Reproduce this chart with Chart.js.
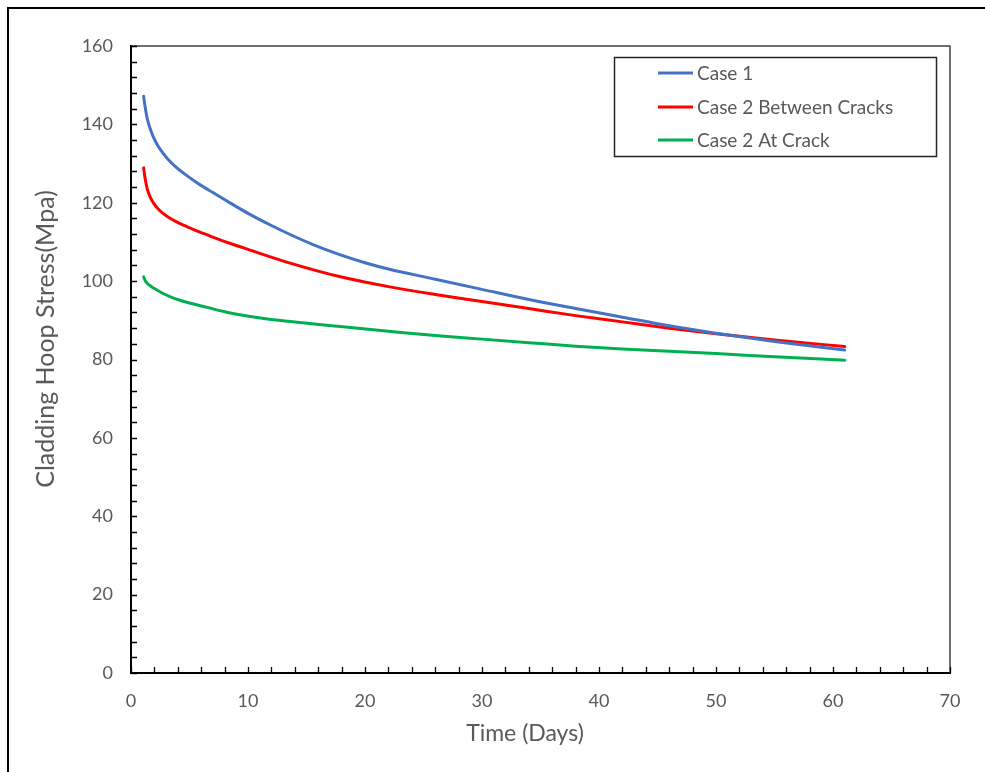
<!DOCTYPE html>
<html>
<head>
<meta charset="utf-8">
<script src="https://cdn.jsdelivr.net/npm/chart.js@4/dist/chart.umd.min.js"></script>
<style>
  html, body { margin: 0; padding: 0; background: #fff; }
  #wrap { width: 985px; height: 772px; position: relative; }
</style>
</head>
<body>
<div id="wrap"><canvas id="c" width="985" height="772"></canvas></div>
<script>
// ---- Data ----
const case1Days   = [1.08, 1.2, 1.4, 1.7, 2.1, 2.5, 3.1, 3.7, 4.6, 5.7, 7, 8.5, 10, 12, 13.6, 15.5, 17.9, 20, 22, 26, 30, 34, 38, 42, 46, 50, 55, 61];
const case1Stress = [147.2, 144.6, 141.3, 138.4, 135.6, 133.6, 131.3, 129.5, 127.3, 125.0, 122.6, 119.9, 117.3, 114.2, 111.9, 109.4, 106.7, 104.7, 103.1, 100.5, 97.9, 95.3, 93.0, 90.8, 88.6, 86.7, 84.6, 82.4];

const case2BetweenDays   = [1.08, 1.2, 1.4, 1.65, 2, 2.5, 3.1, 3.9, 4.85, 6, 7.1, 8.5, 10, 13.6, 17.9, 22, 26, 30, 34, 38, 42, 46, 50, 55, 61];
const case2BetweenStress = [128.9, 126.3, 123.4, 121.4, 119.6, 117.9, 116.5, 115.1, 113.8, 112.4, 111.1, 109.6, 108.1, 104.6, 101.1, 98.6, 96.6, 94.8, 93.0, 91.2, 89.6, 88.0, 86.6, 85.0, 83.3];

const case2AtCrackDays   = [1.08, 1.2, 1.4, 1.7, 2, 2.7, 3.7, 5, 6.5, 8, 9.3, 11.5, 13.6, 17.9, 22, 26, 30, 34, 38, 42, 46, 50, 55, 61];
const case2AtCrackStress = [101.1, 100.2, 99.4, 98.7, 98.1, 96.9, 95.6, 94.4, 93.3, 92.2, 91.4, 90.4, 89.7, 88.4, 87.2, 86.1, 85.2, 84.3, 83.4, 82.7, 82.1, 81.5, 80.7, 79.8];

const seriesLabels = ['Case 1', 'Case 2 Between Cracks', 'Case 2 At Crack'];
const seriesColors = ['#4472C4', '#FF0000', '#00B050'];

const xTitle = 'Time (Days)';
const yTitle = 'Cladding Hoop Stress(Mpa)';

function pts(xs, ys) { return xs.map((x, i) => ({ x: x, y: ys[i] })); }

const FONT = 'Lato, "Liberation Sans", sans-serif';
const TEXT = '#595959';

const decorPlugin = {
  id: 'decor',
  beforeDraw(chart) {
    const ctx = chart.ctx;
    ctx.save();
    ctx.fillStyle = '#fff';
    ctx.fillRect(0, 0, chart.width, chart.height);
    ctx.strokeStyle = '#000';
    ctx.lineWidth = 2;
    ctx.strokeRect(8, 8, chart.width + 10, chart.height + 10);
    ctx.restore();
  },
  afterDraw(chart) {
    const ctx = chart.ctx;
    const a = chart.chartArea;
    const xs = chart.scales.x, ys = chart.scales.y;
    ctx.save();
    // plot frame (top/right)
    ctx.strokeStyle = '#404040';
    ctx.lineWidth = 1.5;
    ctx.beginPath();
    ctx.moveTo(a.left, a.top); ctx.lineTo(a.right, a.top); ctx.lineTo(a.right, a.bottom);
    ctx.stroke();
    // inward tick marks
    ctx.strokeStyle = '#000';
    ctx.lineWidth = 1.3;
    ctx.beginPath();
    for (let v = 0; v <= 160; v += 4) {
      const py = Math.round(ys.getPixelForValue(v)) + 0.5;
      ctx.moveTo(a.left, py); ctx.lineTo(a.left + 6, py);
    }
    for (let v = 0; v <= 70; v += 2) {
      const px = Math.round(xs.getPixelForValue(v)) + 0.5;
      ctx.moveTo(px, a.bottom); ctx.lineTo(px, a.bottom - 6);
    }
    ctx.stroke();
    // axis titles
    ctx.fillStyle = TEXT;
    ctx.textAlign = 'center';
    ctx.textBaseline = 'middle';
    ctx.font = '23px ' + FONT;
    ctx.fillText(xTitle, 525, 734);
    ctx.save();
    ctx.font = '25px ' + FONT;
    ctx.translate(46, 339);
    ctx.rotate(-Math.PI / 2);
    ctx.fillText(yTitle, 0, 0);
    ctx.restore();
    // legend
    ctx.strokeStyle = '#262626';
    ctx.lineWidth = 1.5;
    ctx.strokeRect(614.5, 57.5, 322, 99);
    ctx.font = '19px ' + FONT;
    ctx.textAlign = 'left';
    const rows = [73, 107, 140];
    chart.data.datasets.forEach((ds, i) => {
      ctx.strokeStyle = ds.borderColor;
      ctx.lineWidth = 3;
      ctx.beginPath();
      ctx.moveTo(658, rows[i]); ctx.lineTo(693, rows[i]);
      ctx.stroke();
      ctx.fillStyle = TEXT;
      ctx.fillText(ds.label, 697, rows[i] + 1);
    });
    ctx.restore();
  }
};

new Chart(document.getElementById('c'), {
  type: 'line',
  data: {
    datasets: [
      { label: seriesLabels[0], data: pts(case1Days, case1Stress), borderColor: seriesColors[0] },
      { label: seriesLabels[1], data: pts(case2BetweenDays, case2BetweenStress), borderColor: seriesColors[1] },
      { label: seriesLabels[2], data: pts(case2AtCrackDays, case2AtCrackStress), borderColor: seriesColors[2] }
    ]
  },
  options: {
    responsive: false,
    animation: false,
    devicePixelRatio: 1,
    elements: {
      point: { radius: 0 },
      line: { borderWidth: 3, fill: false, cubicInterpolationMode: 'monotone', borderCapStyle: 'round', borderJoinStyle: 'round' }
    },
    layout: { padding: { left: 0, top: 46, right: 35, bottom: 0 } },
    plugins: { legend: { display: false }, tooltip: { enabled: false } },
    scales: {
      x: {
        type: 'linear', min: 0, max: 70,
        afterFit(s) { s.height = 99; },
        grid: { display: false, drawTicks: false },
        border: { display: true, color: '#000', width: 2 },
        ticks: { stepSize: 10, padding: 17, color: TEXT, font: { family: FONT, size: 18 } }
      },
      y: {
        type: 'linear', min: 0, max: 160,
        afterFit(s) { s.width = 131; },
        grid: { display: false, drawTicks: false },
        border: { display: true, color: '#000', width: 2 },
        ticks: { stepSize: 20, padding: 18, color: TEXT, font: { family: FONT, size: 18 } }
      }
    }
  },
  plugins: [decorPlugin]
});
</script>
</body>
</html>
